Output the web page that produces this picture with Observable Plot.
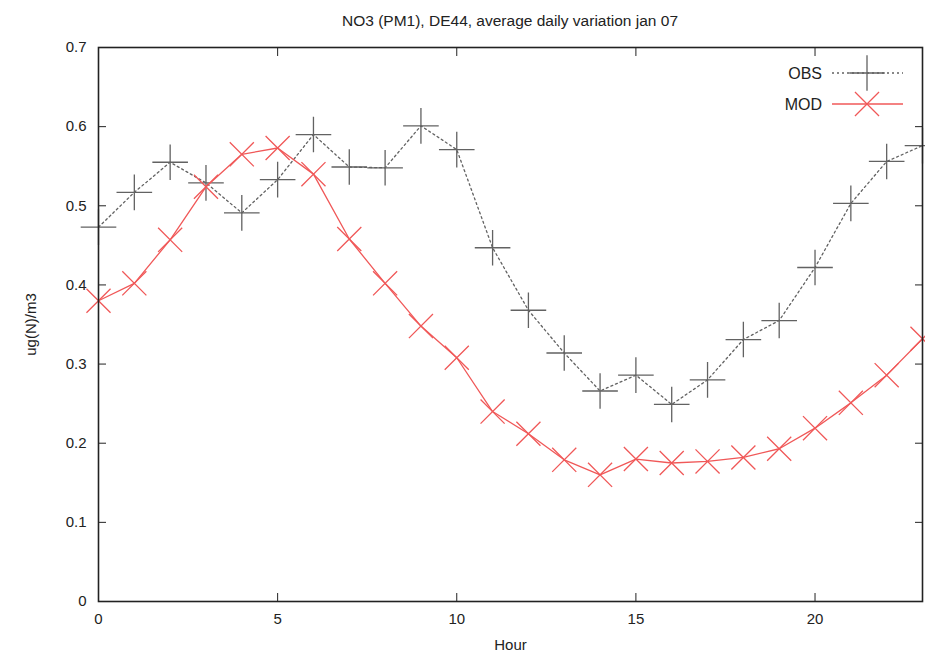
<!DOCTYPE html>
<html>
<head>
<meta charset="utf-8">
<script src="https://cdn.jsdelivr.net/npm/d3@7"></script>
<script src="https://cdn.jsdelivr.net/npm/@observablehq/plot@0.6"></script>
<style>
  body { margin: 0; background: #fff; font-family: "Liberation Sans", Arial, sans-serif; }
  #wrap { position: relative; width: 925px; height: 656px; }
  #title { height: 36px; box-sizing: border-box; padding: 12px 3px 0 98px; text-align: center; font-size: 15.5px; color: #222; line-height: 18px; }
  #legend { position: absolute; left: 0; top: 0; pointer-events: none; }
</style>
</head>
<body>
<div id="wrap">
  <div id="title">NO3 (PM1), DE44, average daily variation jan 07</div>
  <div id="chart"></div>
  <svg id="legend" width="925" height="140"></svg>
</div>
<script>
const hours = [0,1,2,3,4,5,6,7,8,9,10,11,12,13,14,15,16,17,18,19,20,21,22,23];
const obs = [0.473,0.517,0.555,0.529,0.491,0.533,0.590,0.549,0.548,0.601,0.571,0.447,
             0.368,0.314,0.266,0.286,0.249,0.280,0.331,0.355,0.422,0.503,0.556,0.576];
const mod = [0.380,0.402,0.457,0.524,0.565,0.573,0.540,0.458,0.402,0.348,0.308,0.240,
             0.212,0.179,0.160,0.180,0.175,0.177,0.182,0.193,0.219,0.251,0.286,0.332];
const xTicks = [0, 5, 10, 15, 20];
const yTicks = [0, 0.1, 0.2, 0.3, 0.4, 0.5, 0.6, 0.7];
const seriesNames = ["OBS", "MOD"];
const xLabel = "Hour";
const yLabel = "ug(N)/m3";

const obsColor = "#626262";
const modColor = "#f05858";

const obsData = hours.map((h, i) => ({hour: h, value: obs[i]}));
const modData = hours.map((h, i) => ({hour: h, value: mod[i]}));

const fontFamily = "'Liberation Sans', Arial, sans-serif";

const chart = Plot.plot({
  width: 925,
  height: 620,
  marginTop: 11,
  marginBottom: 55,
  marginLeft: 98,
  marginRight: 3,
  style: {fontFamily, fontSize: "15px", color: "#222", background: "#fff", overflow: "visible"},
  x: {domain: [0, 23]},
  y: {domain: [0, 0.7]},
  marks: [
    Plot.axisX({anchor: "bottom", ticks: xTicks, tickSize: -8, tickPadding: 20, tickFormat: d => String(d),
      label: xLabel, labelAnchor: "center", labelArrow: "none", labelOffset: 48, stroke: "#222", fontSize: 15}),
    Plot.axisX({anchor: "top", ticks: xTicks, tickSize: -8, tickFormat: () => "", label: null, stroke: "#222"}),
    Plot.axisY({anchor: "left", ticks: yTicks, tickSize: -8, tickPadding: 20, tickFormat: d => d === 0 ? "0" : d3.format(".1f")(d),
      label: yLabel, labelAnchor: "center", labelArrow: "none", labelOffset: 73, stroke: "#222", fontSize: 15}),
    Plot.axisY({anchor: "right", ticks: yTicks, tickSize: -8, tickFormat: () => "", label: null, stroke: "#222"}),
    Plot.line(obsData, {x: "hour", y: "value", stroke: obsColor, strokeWidth: 1.3, strokeDasharray: "2,3"}),
    Plot.dot(obsData, {x: "hour", y: "value", symbol: "plus", r: 11.5, stroke: obsColor, strokeWidth: 1.3}),
    Plot.line(modData, {x: "hour", y: "value", stroke: modColor, strokeWidth: 1.3}),
    Plot.dot(modData, {x: "hour", y: "value", symbol: "times", r: 11, stroke: modColor, strokeWidth: 1.3}),
    Plot.frame({stroke: "#222", strokeWidth: 1.6})
  ]
});
document.getElementById("chart").appendChild(chart);

// Legend (top-right, inside the frame)
const lg = d3.select("#legend");
const legendItems = [
  {name: seriesNames[0], color: obsColor, dash: "2,3", sym: d3.symbolPlus, size: Math.PI * 11.5 * 11.5},
  {name: seriesNames[1], color: modColor, dash: null, sym: d3.symbolTimes, size: Math.PI * 121}
];
legendItems.forEach((it, i) => {
  const cy = 73 + i * 31;
  lg.append("text").attr("x", 822).attr("y", cy).attr("dy", "0.36em")
    .attr("text-anchor", "end").attr("font-family", fontFamily).attr("font-size", 16).attr("fill", "#222").text(it.name);
  lg.append("line").attr("x1", 832).attr("x2", 903).attr("y1", cy).attr("y2", cy)
    .attr("stroke", it.color).attr("stroke-width", 1.3).attr("stroke-dasharray", it.dash);
  lg.append("path").attr("transform", `translate(867,${cy})`).attr("d", d3.symbol(it.sym, it.size)())
    .attr("fill", "none").attr("stroke", it.color).attr("stroke-width", 1.3);
});
</script>
</body>
</html>
